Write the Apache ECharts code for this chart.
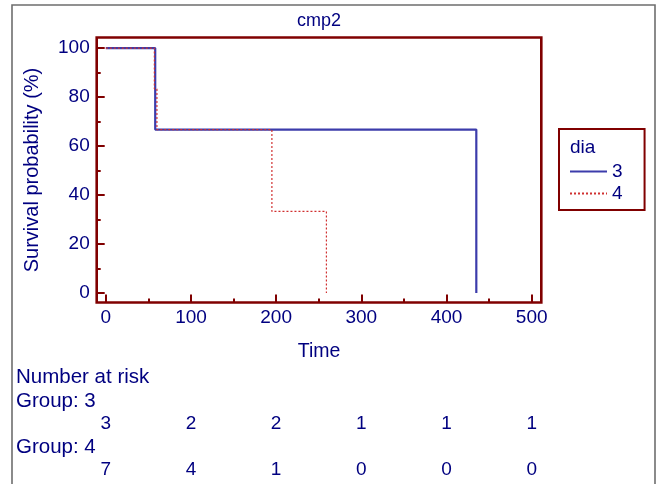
<!DOCTYPE html>
<html>
<head>
<meta charset="utf-8">
<script src="https://cdn.jsdelivr.net/npm/echarts@6/dist/echarts.min.js"></script>
<style>
  html, body { margin: 0; padding: 0; background: #fff; }
  #chart { width: 660px; height: 484px; }
</style>
</head>
<body>
<div id="chart"></div>
<script>
// Kaplan-Meier steps
const time3 = [0, 58, 435];
const surv3 = [100, 66.7, 0];
const time4 = [0, 57, 60, 195, 259];
const surv4 = [100, 83.3, 66.7, 33.3, 0];

const xMajor = [0, 100, 200, 300, 400, 500];
const xMinor = [50, 150, 250, 350, 450];
const yMajor = [0, 20, 40, 60, 80, 100];
const yMinor = [10, 30, 50, 70, 90];

// number at risk table
const riskTimes = [0, 100, 200, 300, 400, 500];
const risk3 = [3, 2, 2, 1, 1, 1];
const risk4 = [7, 4, 1, 0, 0, 0];

const NAVY = '#000080';
const MAROON = '#800000';
const FONT = 'Liberation Sans, Arial, sans-serif';
const FS = 19;
const FS_RISK = 20.5;

function zip(xs, ys) {
    return xs.map((x, i) => [x, ys[i]]);
}

let riskData = riskTimes.map((t, i) => [t, 1, risk3[i]])
    .concat(riskTimes.map((t, i) => [t, 0, risk4[i]]));

const xmin = -10.7, xmax = 511.3;
const gridL = 96.7, gridW = 444.6;

let myChart = echarts.init(document.getElementById('chart'), null, {renderer: 'canvas'});
let option = {
    animation: false,
    textStyle: {fontFamily: FONT},
    title: {
        text: 'cmp2',
        left: 314,
        textAlign: 'center',
        top: 7,
        textStyle: {color: NAVY, fontSize: 18, fontWeight: 'normal', fontFamily: FONT}
    },
    legend: {
        orient: 'vertical',
        left: 559,
        top: 129,
        padding: [33, 22, 7, 10],
        itemWidth: 37,
        itemHeight: 14,
        itemGap: 3,
        borderColor: MAROON,
        borderWidth: 2,
        itemStyle: {opacity: 0},
        textStyle: {color: NAVY, fontSize: FS, fontFamily: FONT},
        data: ['3', '4']
    },
    grid: [
        {left: gridL, top: 37.5, width: gridW, height: 265, show: true,
         borderColor: MAROON, borderWidth: 2.6, backgroundColor: '#fff'},
        {left: gridL, top: 424, width: gridW, height: 46, show: false}
    ],
    xAxis: [
        {
            type: 'value', gridIndex: 0, position: 'bottom', min: xmin, max: xmax,
            axisLine: {show: false, onZero: false},
            axisTick: {show: true, inside: true, length: 8, customValues: xMajor,
                       lineStyle: {color: MAROON, width: 2}},
            axisLabel: {show: true, customValues: xMajor, color: NAVY, fontSize: FS, margin: 6},
            splitLine: {show: false},
            name: 'Time', nameLocation: 'middle', nameGap: 39,
            nameTextStyle: {color: NAVY, fontSize: 19.5, fontFamily: FONT}
        },
        {
            type: 'value', gridIndex: 0, position: 'bottom', min: xmin, max: xmax,
            axisLine: {show: false, onZero: false},
            axisTick: {show: true, inside: true, length: 4, customValues: xMinor,
                       lineStyle: {color: MAROON, width: 2}},
            axisLabel: {show: false},
            splitLine: {show: false}
        },
        {
            type: 'value', gridIndex: 1, min: xmin, max: xmax, show: false
        }
    ],
    yAxis: [
        {
            type: 'value', gridIndex: 0, position: 'left', min: -3.9, max: 104.3,
            axisLine: {show: false, onZero: false},
            axisTick: {show: true, inside: true, length: 8, customValues: yMajor,
                       lineStyle: {color: MAROON, width: 2}},
            axisLabel: {show: true, customValues: yMajor, color: NAVY, fontSize: FS, margin: 7},
            splitLine: {show: false},
            name: 'Survival probability (%)', nameLocation: 'middle', nameGap: 54,
            nameTextStyle: {color: NAVY, fontSize: 20, fontFamily: FONT}
        },
        {
            type: 'value', gridIndex: 0, position: 'left', min: -3.9, max: 104.3,
            axisLine: {show: false, onZero: false},
            axisTick: {show: true, inside: true, length: 4, customValues: yMinor,
                       lineStyle: {color: MAROON, width: 2}},
            axisLabel: {show: false},
            splitLine: {show: false}
        },
        {
            type: 'value', gridIndex: 1, min: 0, max: 1, show: false
        }
    ],
    series: [
        {
            name: '3', type: 'line', step: 'end', xAxisIndex: 0, yAxisIndex: 0,
            data: zip(time3, surv3), symbol: 'none', z: 3,
            lineStyle: {color: '#3c3cab', width: 2.2, type: 'solid'},
            itemStyle: {color: '#3c3cab'}
        },
        {
            name: '4', type: 'line', step: 'end', xAxisIndex: 0, yAxisIndex: 0,
            data: zip(time4, surv4), symbol: 'none', z: 4,
            lineStyle: {color: '#d03030', width: 1.2, type: [2, 2]},
            itemStyle: {color: '#d03030'}
        },
        {
            name: 'risk', type: 'scatter', xAxisIndex: 2, yAxisIndex: 2,
            data: riskData, symbolSize: 0, itemStyle: {color: NAVY},
            label: {show: true, position: 'inside', color: NAVY, fontSize: FS, opacity: 1,
                    formatter: p => String(p.value[2])},
            emphasis: {disabled: true},
            silent: true
        }
    ],
    graphic: [
        {type: 'rect', shape: {x: 12, y: 5, width: 643, height: 520},
         style: {fill: 'none', stroke: '#6e6e6e', lineWidth: 1.6}, z: -1},
        {type: 'text', x: 570, y: 148, style: {text: 'dia', fill: NAVY, font: FS + 'px ' + FONT, textVerticalAlign: 'middle'}},
        {type: 'text', x: 16, y: 377, style: {text: 'Number at risk', fill: NAVY, font: FS_RISK + 'px ' + FONT, textVerticalAlign: 'middle'}},
        {type: 'text', x: 16, y: 401, style: {text: 'Group: 3', fill: NAVY, font: FS_RISK + 'px ' + FONT, textVerticalAlign: 'middle'}},
        {type: 'text', x: 16, y: 447, style: {text: 'Group: 4', fill: NAVY, font: FS_RISK + 'px ' + FONT, textVerticalAlign: 'middle'}}
    ]
};
myChart.setOption(option);
</script>
</body>
</html>
